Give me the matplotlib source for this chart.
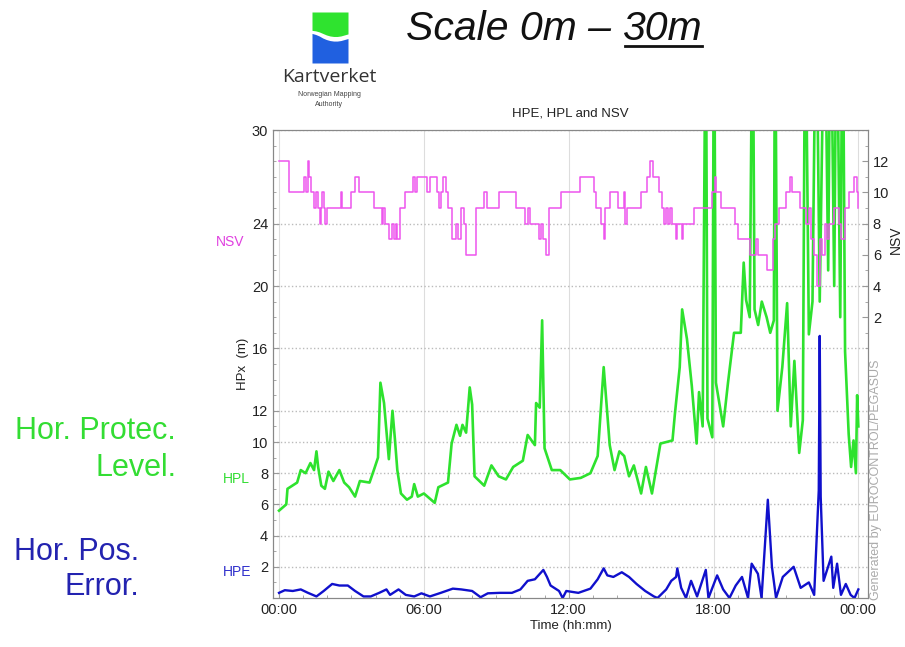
import matplotlib
matplotlib.use("Agg")
import matplotlib.pyplot as plt
import numpy as np
from matplotlib.lines import Line2D

plt.rcParams['font.family'] = ['Liberation Sans', 'DejaVu Sans']

# ---- data (time in hours) ----
nsv_hours = [0.0, 0.4, 1.05, 1.12, 1.18, 1.25, 1.32, 1.45, 1.55, 1.6, 1.7, 1.75, 1.8, 1.85,
             1.92, 1.98, 2.55, 2.62, 3.0, 3.15, 3.3, 3.95, 4.25, 4.32, 4.38, 4.55, 4.7,
             4.75, 4.85, 4.9, 5.0, 5.2, 5.55, 5.65, 5.72, 6.15, 6.25, 6.55, 6.62, 6.7,
             6.78, 6.9, 7.0, 7.15, 7.35, 7.4, 7.55, 7.65, 7.75, 8.15, 8.5, 8.6, 9.1,
             9.8, 10.2, 10.3, 10.4, 10.75, 10.85, 10.95, 11.05, 11.2, 11.7, 12.45, 13.05,
             13.15, 13.35, 13.45, 13.5, 13.7, 14.05, 14.3, 14.35, 14.4, 15.0, 15.25,
             15.35, 15.5, 15.75, 15.85, 15.95, 16.05, 16.1, 16.2, 16.3, 16.45, 16.5,
             16.7, 16.75, 17.2, 17.95, 18.05, 18.1, 18.3, 18.9, 19.0, 19.5, 19.75,
             19.85, 20.2, 20.45, 20.55, 20.7, 21.0, 21.15, 21.25, 21.6, 21.85, 21.95,
             22.05, 22.15, 22.3, 22.4, 22.5, 22.6, 22.7, 22.8, 23.0, 23.2, 23.3, 23.45,
             23.6, 23.8, 23.95, 24.0]
nsv_count = [12, 10, 11, 10, 12, 11, 10, 9, 10, 9, 8, 9, 10, 9,
             8, 9, 10, 9, 10, 11, 10, 9, 8, 9, 8, 7, 8,
             7, 8, 7, 9, 10, 11, 10, 11, 10, 11, 10, 9, 10,
             11, 10, 9, 7, 8, 7, 9, 8, 6, 9, 10, 9, 10,
             9, 8, 9, 8, 7, 8, 7, 6, 9, 10, 11, 10,
             9, 8, 7, 9, 10, 9, 10, 8, 9, 10, 11,
             12, 11, 10, 9, 8, 9, 8, 9, 8, 7, 8,
             7, 8, 9, 10, 11, 10, 9, 8, 7, 6, 7,
             6, 5, 7, 8, 9, 10, 11, 10, 9, 8, 9,
             7, 6, 4, 7, 6, 8, 7, 8, 9, 8, 7, 9,
             10, 11, 10, 9]

hpl_hours = [0.0, 0.3, 0.35, 0.75, 0.9, 1.1, 1.3, 1.45, 1.55, 1.62, 1.75, 1.9, 2.05, 2.25,
             2.5, 2.7, 2.9, 3.15, 3.35, 3.75, 3.95, 4.1, 4.2, 4.35, 4.55, 4.7, 4.8, 4.9,
             5.05, 5.3, 5.5, 5.6, 5.75, 6.0, 6.3, 6.45, 6.6, 7.0, 7.15, 7.35, 7.5, 7.6,
             7.75, 7.9, 8.0, 8.1, 8.5, 8.8, 9.1, 9.4, 9.7, 10.1, 10.3, 10.6, 10.65, 10.8,
             10.9, 11.0, 11.3, 11.65, 12.05, 12.5, 12.9, 13.2, 13.45, 13.6, 13.7, 13.9,
             14.1, 14.3, 14.5, 14.7, 15.0, 15.2, 15.45, 15.8, 16.3, 16.4, 16.6, 16.7,
             16.9, 17.1, 17.3, 17.4, 17.55, 17.68, 17.75, 17.95, 18.02, 18.1, 18.4,
             18.6, 18.85, 19.13, 19.25, 19.35, 19.5, 19.62, 19.7, 19.85, 20.0, 20.2,
             20.35, 20.5, 20.55, 20.65, 20.85, 21.05, 21.2, 21.35, 21.55, 21.7, 21.8,
             21.95, 22.1, 22.25, 22.4, 22.6, 22.75, 22.85, 23.0, 23.1, 23.25, 23.35,
             23.45, 23.6, 23.7, 23.8, 23.9, 23.95, 24.0]
hpl_m = [5.6, 6.0, 7.0, 7.4, 8.2, 8.0, 8.65, 8.2, 9.4, 8.4, 7.2, 7.0, 8.1, 7.5,
         8.2, 7.4, 7.1, 6.5, 7.5, 7.4, 8.3, 9.0, 13.8, 12.5, 8.9, 12.0, 10.2, 8.2,
         6.7, 6.3, 6.5, 7.3, 6.5, 6.7, 6.3, 6.1, 7.1, 7.4, 9.9, 11.1, 10.4, 11.1,
         10.6, 13.5, 12.4, 7.8, 7.2, 8.5, 7.8, 7.6, 8.4, 8.8, 10.45, 9.8, 12.5, 12.2,
         17.8, 9.6, 8.2, 8.2, 7.6, 7.7, 8.0, 9.1, 14.8, 11.8, 9.8, 8.2,
         9.4, 9.1, 7.8, 8.5, 6.7, 8.4, 6.7, 9.9, 10.1, 11.8, 14.8, 18.5,
         16.6, 13.6, 9.9, 13.2, 11.0, 40, 11.5, 10.3, 40, 13.8, 11.0,
         13.8, 17.0, 17.0, 21.5, 19.1, 18.0, 40, 18.5, 17.5, 19.0, 18.0,
         17.0, 17.8, 40, 12.0, 14.8, 18.9, 11.0, 15.2, 9.3, 11.4, 40,
         16.9, 19.0, 40, 19.0, 40, 21.0, 40, 20.0, 40, 18.0, 40,
         15.8, 10.5, 8.4, 10.1, 8.0, 13.0, 11.0]

hpe_hours = [0.0, 0.24, 0.57, 0.9, 1.2, 1.55, 1.85, 2.2, 2.5, 2.85, 3.15, 3.5, 3.8, 4.15,
             4.45, 4.6, 4.95, 5.25, 5.6, 5.9, 6.25, 6.7, 7.2, 7.55, 8.0, 8.35, 8.65,
             9.15, 9.65, 10.0, 10.3, 10.6, 10.95, 11.1, 11.25, 11.6, 11.75, 11.9, 12.4,
             12.9, 13.2, 13.45, 13.6, 13.85, 14.2, 14.5, 14.81, 15.17, 15.53, 15.68,
             16.04, 16.25, 16.45, 16.5, 16.66, 16.86, 17.07, 17.32, 17.68, 17.79, 18.15,
             18.4, 18.66, 18.92, 19.18, 19.43, 19.58, 19.84, 19.99, 20.25, 20.42, 20.59,
             20.87, 21.32, 21.61, 21.95, 22.17, 22.36, 22.4, 22.44, 22.56, 22.88, 22.96,
             23.12, 23.28, 23.48, 23.68, 23.84, 24.0]
hpe_m = [0.33, 0.5, 0.45, 0.55, 0.33, 0.1, 0.45, 0.9, 0.8, 0.8, 0.45, 0.1, 0.1, 0.33,
         0.55, 0.2, 0.55, 0.2, 0.1, 0.3, 0.1, 0.33, 0.6, 0.55, 0.45, 0.05, 0.3,
         0.33, 0.33, 0.55, 1.1, 1.2, 1.8, 1.35, 0.8, 0.45, 0.0, 0.45, 0.33,
         0.6, 1.2, 1.9, 1.45, 1.35, 1.65, 1.35, 0.9, 0.45, 0.1, 0.0,
         0.55, 1.1, 1.35, 1.9, 0.65, 0.0, 1.1, 0.1, 1.8, 0.0, 1.45,
         0.55, 0.0, 0.8, 1.35, 0.0, 2.2, 1.55, 0.0, 6.3, 2.0, 0.0,
         1.35, 2.0, 0.65, 1.0, 0.2, 6.9, 16.8, 6.5, 1.1, 2.65, 0.65,
         2.2, 0.2, 0.9, 0.2, 0.0, 0.55]

hpx_ticks = [2, 4, 6, 8, 10, 12, 16, 20, 24, 30]
nsv_ticks = [2, 4, 6, 8, 10, 12]
time_ticks = [0, 6, 12, 18, 24]
time_labels = ['00:00', '06:00', '12:00', '18:00', '00:00']

# ---- figure ----
W, H = 905, 647
fig = plt.figure(figsize=(W / 100, H / 100), dpi=100)

def fx(px):
    return px / W

def fy(py):
    return 1 - py / H

ax = fig.add_axes([fx(273), fy(598), fx(868) - fx(273), fy(130) - fy(598)])
ax.set_xlim(-0.25, 24.4)
ax.set_ylim(0, 30)

ax.plot(hpl_hours, hpl_m, color='#2ee22e', lw=1.9, zorder=3)
ax.plot(hpe_hours, hpe_m, color='#1010cc', lw=1.7, zorder=4)

ax.set_yticks(hpx_ticks)
ax.set_yticks(np.arange(1, 30), minor=True)
ax.set_xticks(time_ticks)
ax.set_xticklabels(time_labels)
ax.set_xticks(np.arange(0, 25), minor=True)
ax.tick_params(which='both', direction='in', colors='#999999', labelcolor='#222222',
               labelsize=10.5)
ax.tick_params(which='major', length=4)
ax.tick_params(which='minor', length=2)
ax.grid(axis='y', which='major', linestyle=':', color='#bbbbbb', lw=1.0)
ax.grid(axis='x', which='major', linestyle='-', color='#dddddd', lw=0.8)
for s in ax.spines.values():
    s.set_color('#888888')

ax.set_ylabel('HPx  (m)', fontsize=9.5, color='#222222', labelpad=2)
ax.set_xlabel('Time (hh:mm)', fontsize=9.5, color='#222222', labelpad=2)
ax.set_title('HPE, HPL and NSV', fontsize=9.5, color='#222222', pad=10)

ax2 = ax.twinx()
ax2.set_ylim(-16, 14)
ax2.step(nsv_hours, nsv_count, where='post', color='#ee55ee', lw=1.1, zorder=5)
ax2.set_yticks(nsv_ticks)
ax2.set_yticks(np.arange(0, 14), minor=True)
ax2.tick_params(which='both', direction='in', colors='#999999', labelcolor='#222222',
                labelsize=10.5)
ax2.tick_params(which='major', length=4)
ax2.tick_params(which='minor', length=2)
for s in ax2.spines.values():
    s.set_color('#888888')
fig.text(fx(896), fy(240), 'NSV', rotation=90, ha='center', va='center',
         fontsize=10, color='#222222')

fig.text(fx(876), fy(600), 'Generated by EUROCONTROL/PEGASUS', rotation=90,
         ha='center', va='bottom', fontsize=9, color='#aaaaaa')

# series labels next to the left axis
fig.text(fx(244), fy(242), 'NSV', color='#e040e0', fontsize=10, ha='right', va='center')
fig.text(fx(250), fy(479), 'HPL', color='#33dd33', fontsize=10, ha='right', va='center')
fig.text(fx(251), fy(572), 'HPE', color='#3030cc', fontsize=10, ha='right', va='center')

# big annotations on the left
fig.text(fx(176), fy(431), 'Hor. Protec.', color='#33dd33', fontsize=22, ha='right', va='center')
fig.text(fx(176), fy(468), 'Level.', color='#33dd33', fontsize=22, ha='right', va='center')
fig.text(fx(139), fy(552), 'Hor. Pos.', color='#2323b0', fontsize=22, ha='right', va='center')
fig.text(fx(139), fy(587), 'Error.', color='#2323b0', fontsize=22, ha='right', va='center')

# heading with underlined upper bound
renderer = fig.canvas.get_renderer()
t1 = fig.text(fx(406), fy(29), 'Scale 0m \u2013 ', fontsize=29.5, style='italic',
              ha='left', va='center', color='#111111')
bb1 = t1.get_window_extent(renderer)
t2 = fig.text(bb1.x1 / W, fy(29), '30m', fontsize=29.5, style='italic',
              ha='left', va='center', color='#111111')
bb2 = t2.get_window_extent(renderer)
fig.add_artist(Line2D([bb2.x0 / W + 0.003, bb2.x1 / W], [fy(46), fy(46)],
                      transform=fig.transFigure, color='#111111', lw=2))

# Kartverket logo
lax = fig.add_axes([fx(312), fy(63), fx(348) - fx(312), fy(12) - fy(63)])
lax.set_xlim(0, 1)
lax.set_ylim(0, 1)
lax.axis('off')
wave_x = [0.0, 0.1, 0.2, 0.3, 0.4, 0.5, 0.6, 0.7, 0.8, 0.9, 1.0]
green_low = [0.64, 0.63, 0.61, 0.58, 0.55, 0.53, 0.52, 0.52, 0.53, 0.55, 0.57]
blue_high = [0.58, 0.56, 0.53, 0.49, 0.46, 0.44, 0.43, 0.43, 0.44, 0.46, 0.48]
lax.fill_between(wave_x, green_low, 1, color='#2fe32f', lw=0)
lax.fill_between(wave_x, 0, blue_high, color='#2060e0', lw=0)

fig.text(fx(329), fy(77), 'Kartverket', fontsize=14, color='#333333', ha='center',
         va='center', family=['Open Sans', 'DejaVu Sans'])
fig.text(fx(329), fy(95), 'Norwegian Mapping', fontsize=5, color='#444444', ha='center', va='center')
fig.text(fx(329), fy(104), 'Authority', fontsize=5, color='#444444', ha='center', va='center')

fig.savefig('out.png', dpi=100, facecolor='white')
